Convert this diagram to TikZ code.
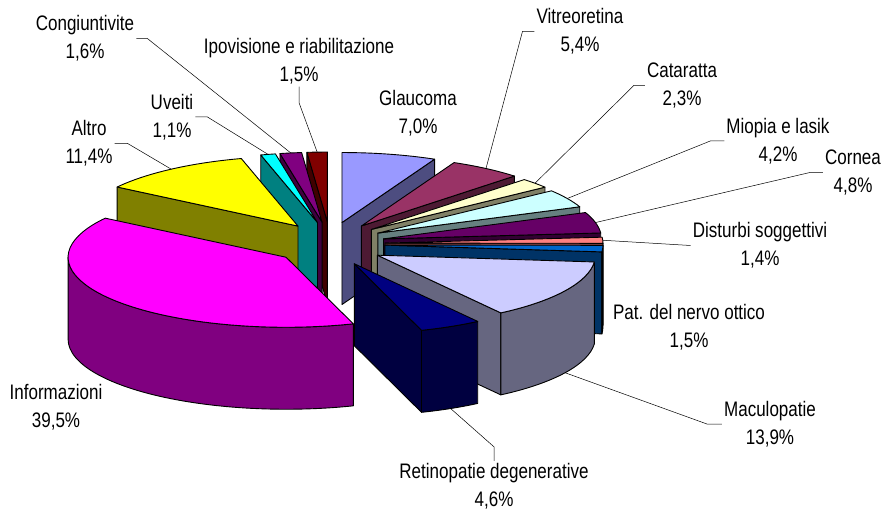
\documentclass[tikz,border=0pt]{standalone}
\usepackage{fontspec}
\setmainfont{Liberation Sans}[FakeStretch=0.81]
\usetikzlibrary{calc}

\definecolor{glaucTop}{HTML}{9999FF}\definecolor{glaucSide}{HTML}{4D4D80}
\definecolor{vitrTop}{HTML}{993366}\definecolor{vitrSide}{HTML}{4D1A33}
\definecolor{catTop}{HTML}{FFFFCC}\definecolor{catSide}{HTML}{808066}
\definecolor{miopTop}{HTML}{CCFFFF}\definecolor{miopSide}{HTML}{668080}
\definecolor{cornTop}{HTML}{660066}\definecolor{cornSide}{HTML}{330033}
\definecolor{distTop}{HTML}{FF8080}\definecolor{distSide}{HTML}{804040}
\definecolor{nervTop}{HTML}{0066CC}\definecolor{nervSide}{HTML}{003366}
\definecolor{macTop}{HTML}{CCCCFF}\definecolor{macSide}{HTML}{666680}
\definecolor{retTop}{HTML}{000080}\definecolor{retSide}{HTML}{000040}
\definecolor{infTop}{HTML}{FF00FF}\definecolor{infSide}{HTML}{800080}
\definecolor{altTop}{HTML}{FFFF00}\definecolor{altSide}{HTML}{808000}
\definecolor{uvTop}{HTML}{00FFFF}\definecolor{uvSide}{HTML}{008080}
\definecolor{congTop}{HTML}{800080}\definecolor{congSide}{HTML}{400040}
\definecolor{ipoTop}{HTML}{800000}\definecolor{ipoSide}{HTML}{400000}

% one exploded slice: name, start angle, end angle, top colour, side colour
\newcommand{\pieslice}[5]{%
  \pgfmathsetmacro{\pmid}{(#2+#3)/2}
  \pgfmathsetmacro{\pvhi}{min(#2,0)}
  \pgfmathsetmacro{\pvlo}{max(#3,-180)}
  \begin{scope}[shift={({55*cos(\pmid)},{22*sin(\pmid)})}]
    \pgfmathtruncatemacro{\pok}{cos(#2)<-0.01}
    \ifnum\pok=1
      \filldraw[slice,fill=#5] (0,0) -- (#2:218pt and 70pt) -- ++(0,-82) -- (0,-82) -- cycle;
    \fi
    \pgfmathtruncatemacro{\pok}{cos(#3)>0.01}
    \ifnum\pok=1
      \filldraw[slice,fill=#5] (0,0) -- (#3:218pt and 70pt) -- ++(0,-82) -- (0,-82) -- cycle;
    \fi
    \pgfmathtruncatemacro{\pok}{\pvhi>\pvlo}
    \ifnum\pok=1
      \filldraw[slice,fill=#5] (\pvhi:218pt and 70pt) arc[start angle=\pvhi,end angle=\pvlo,x radius=218pt,y radius=70pt]
        -- ++(0,-82) arc[start angle=\pvlo,end angle=\pvhi,x radius=218pt,y radius=70pt] -- cycle;
    \fi
    \filldraw[slice,fill=#4] (0,0) -- (#2:218pt and 70pt) arc[start angle=#2,end angle=#3,x radius=218pt,y radius=70pt] -- cycle;
    \coordinate (#1-rim) at (\pmid:218pt and 70pt);
    \coordinate (#1-bot) at ($(\pmid:218pt and 70pt)+(0,-82)$);
  \end{scope}}

\tikzset{
  slice/.style={draw=black,line width=0.9pt,line join=round},
  leader/.style={draw=black,line width=0.5pt},
  lab/.style={align=center,inner sep=2pt,font=\fontsize{21}{28}\selectfont}
}

\begin{document}
\begin{tikzpicture}[x=1pt,y=1pt]
\useasboundingbox (0,0) rectangle (885,512);
\fill[white] (0,0) rectangle (885,512);

% pie, back slices first
\begin{scope}[shift={(330,268)}]
\pieslice{ipo}{-264.61}{-270}{ipoTop}{ipoSide}
\pieslice{cong}{-258.86}{-264.61}{congTop}{congSide}
\pieslice{uv}{-254.91}{-258.86}{uvTop}{uvSide}
\pieslice{glauc}{90}{64.85}{glaucTop}{glaucSide}
\pieslice{alt}{-213.95}{-254.91}{altTop}{altSide}
\pieslice{vitr}{64.85}{45.45}{vitrTop}{vitrSide}
\pieslice{cat}{45.45}{37.19}{catTop}{catSide}
\pieslice{miop}{37.19}{22.10}{miopTop}{miopSide}
\pieslice{corn}{22.10}{4.85}{cornTop}{cornSide}
\pieslice{dist}{4.85}{-0.18}{distTop}{distSide}
\pieslice{nerv}{-0.18}{-5.57}{nervTop}{nervSide}
\pieslice{mac}{-5.57}{-55.51}{macTop}{macSide}
\pieslice{inf}{-72.04}{-213.95}{infTop}{infSide}
\pieslice{ret}{-55.51}{-72.04}{retTop}{retSide}
\end{scope}

% labels
\node[lab] (l-cong) at (85,473.5) {Congiuntivite\\1,6\%};
\node[lab] (l-ipo) at (299,450.5) {Ipovisione e riabilitazione\\1,5\%};
\node[lab] (l-uv) at (172,395) {Uveiti\\1,1\%};
\node[lab] (l-alt) at (89,368.5) {Altro\\11,4\%};
\node[lab] (l-glauc) at (418,398.5) {Glaucoma\\7,0\%};
\node[lab] (l-vitr) at (580,480.5) {Vitreoretina\\5,4\%};
\node[lab] (l-cat) at (682,426.5) {Cataratta\\2,3\%};
\node[lab] (l-miop) at (778,371) {Miopia e lasik\\4,2\%};
\node[lab] (l-corn) at (853,339.5) {Cornea\\4,8\%};
\node[lab] (l-dist) at (760,266.5) {Disturbi soggettivi\\1,4\%};
\node[lab] (l-nerv) at (689,184.5) {Pat. del nervo ottico\\1,5\%};
\node[lab] (l-mac) at (770,88) {Maculopatie\\13,9\%};
\node[lab] (l-ret) at (494,26) {Retinopatie degenerative\\4,6\%};
\node[lab] (l-inf) at (56,105) {Informazioni\\39,5\%};

% leader lines
\draw[leader] (l-cong.east) -- ++(11,0) -- (cong-rim);
\draw[leader] (l-ipo.south) -- ++(0,-16) -- (ipo-rim);
\draw[leader] (l-uv.east) -- ++(12,0) -- (uv-rim);
\draw[leader] (l-alt.east) -- ++(13,0) -- (alt-rim);
\draw[leader] (l-vitr.west) -- ++(-12,0) -- (vitr-rim);
\draw[leader] (l-cat.west) -- ++(-11,0) -- (cat-rim);
\draw[leader] (l-miop.west) -- ++(-14,0) -- (miop-rim);
\draw[leader] (l-corn.west) -- ++(-13,0) -- (corn-rim);
\draw[leader] (l-dist.west) -- (dist-rim);
\draw[leader] (l-mac.west) -- ++(-15,0) -- (mac-bot);
\draw[leader] (l-ret.north) -- ++(0,14) -- (ret-bot);
\end{tikzpicture}
\end{document}
